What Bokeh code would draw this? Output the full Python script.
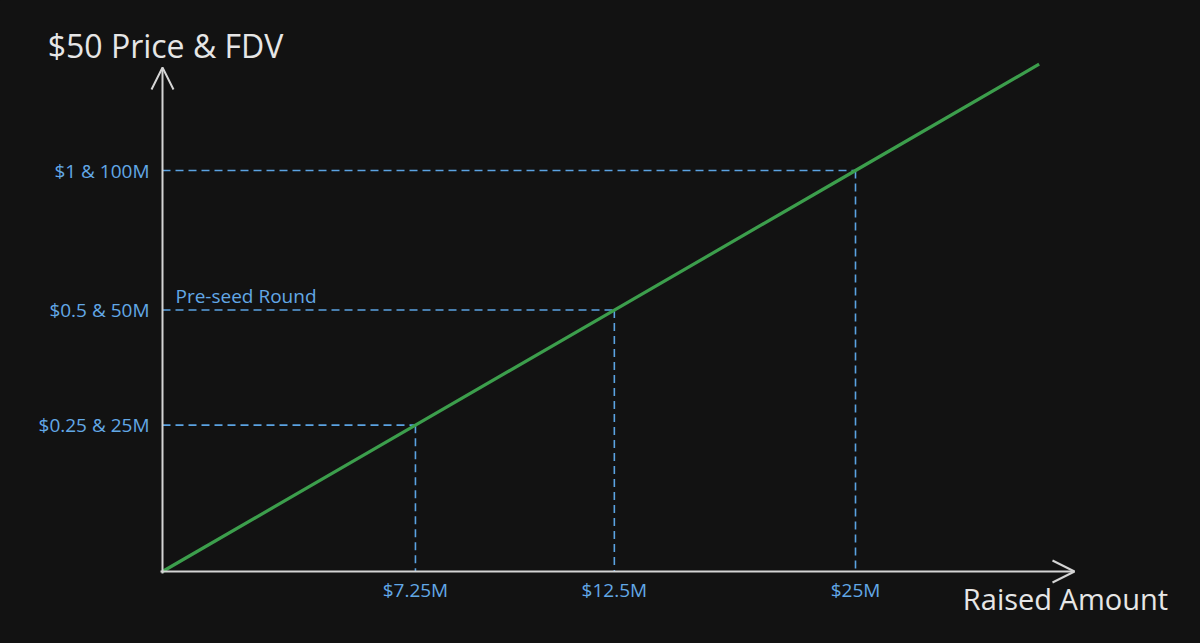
from bokeh.plotting import figure
from bokeh.models import Range1d, Arrow, OpenHead, ColumnDataSource
from bokeh.core.properties import value
from bokeh.embed import file_html
from bokeh.resources import INLINE

# ---- data (schematic sketch: positions along the diagonal, 25M round = 1) ----
raised_labels = ["$7.25M", "$12.5M", "$25M"]
price_fdv_labels = ["$0.25 & 25M", "$0.5 & 50M", "$1 & 100M"]
sketch_pos = [0.365, 0.652, 1.0]
curve_t = [0.0, 0.365, 0.652, 1.0, 1.265]
round_label = "Pre-seed Round"
round_idx = 1
y_title = "$50 Price & FDV"
x_title = "Raised Amount"

BG = "#121212"
BLUE = "#5ba3e2"
BLUE_TXT = "#62a8e6"
GREEN = "#3c9e4c"
AXIS = "#d4d4d4"
WHITE_TXT = "#e6e6e6"
FONT = "Open Sans"

W, H = 1200, 643
XS, YS = 693.0, 401.0          # pixels per sketch unit
OX, OY = 162, 571              # origin on the canvas

p = figure(width=W, height=H, output_backend="svg", toolbar_location=None,
           x_range=Range1d(-OX / XS, (W - OX) / XS),
           y_range=Range1d(-(H - OY) / YS, OY / YS),
           min_border=0, min_border_left=0, min_border_right=0,
           min_border_top=0, min_border_bottom=0)
p.background_fill_color = BG
p.border_fill_color = BG
p.outline_line_color = None
p.grid.visible = False
p.axis.visible = False

# dashed guides
zeros = [0.0] * len(sketch_pos)
src = ColumnDataSource(dict(x=sketch_pos, y=sketch_pos, z=zeros,
                            xl=raised_labels, yl=price_fdv_labels))
p.segment(x0="z", y0="y", x1="x", y1="y", source=src,
          line_color=BLUE, line_width=1.6, line_dash="8 5")
p.segment(x0="x", y0="y", x1="x", y1="z", source=src,
          line_color=BLUE, line_width=1.6, line_dash="8 5")

# main line
p.line(x=curve_t, y=curve_t, line_color=GREEN, line_width=3.2)

# axis arrows
p.add_layout(Arrow(x_start=0, y_start=-2 / YS, x_end=0, y_end=504 / YS,
                   line_color=AXIS, line_width=2,
                   end=OpenHead(size=22, line_color=AXIS, line_width=2)))
p.add_layout(Arrow(x_start=-2 / XS, y_start=0, x_end=912 / XS, y_end=0,
                   line_color=AXIS, line_width=2,
                   end=OpenHead(size=22, line_color=AXIS, line_width=2)))

# tick labels
p.text(x="z", y="y", text="yl", source=src, x_offset=-13, text_align="right",
       text_baseline="middle", text_font=value(FONT), text_font_size="19px",
       text_color=BLUE_TXT)
p.text(x="x", y="z", text="xl", source=src, y_offset=18, text_align="center",
       text_baseline="middle", text_font=value(FONT), text_font_size="19px",
       text_color=BLUE_TXT)

# titles and annotation
p.text(x=[0.0], y=[0.0], text=[y_title], x_offset=3, y_offset=-(OY - 45),
       text_align="center", text_baseline="middle", text_font=value(FONT),
       text_font_size="32px", text_color=WHITE_TXT)
p.text(x=[0.0], y=[0.0], text=[x_title], x_offset=1065 - OX, y_offset=598 - OY,
       text_align="center", text_baseline="middle", text_font=value(FONT),
       text_font_size="29px", text_color=WHITE_TXT)
p.text(x=[0.0], y=[sketch_pos[round_idx]], text=[round_label], x_offset=13,
       y_offset=-14, text_align="left", text_baseline="middle",
       text_font=value(FONT), text_font_size="19px", text_color=BLUE_TXT)

html = file_html(p, INLINE)
html = html.replace("<head>", "<head><style>html,body{background:%s;margin:0;}</style>" % BG, 1)
open("out.html", "w").write(html)
